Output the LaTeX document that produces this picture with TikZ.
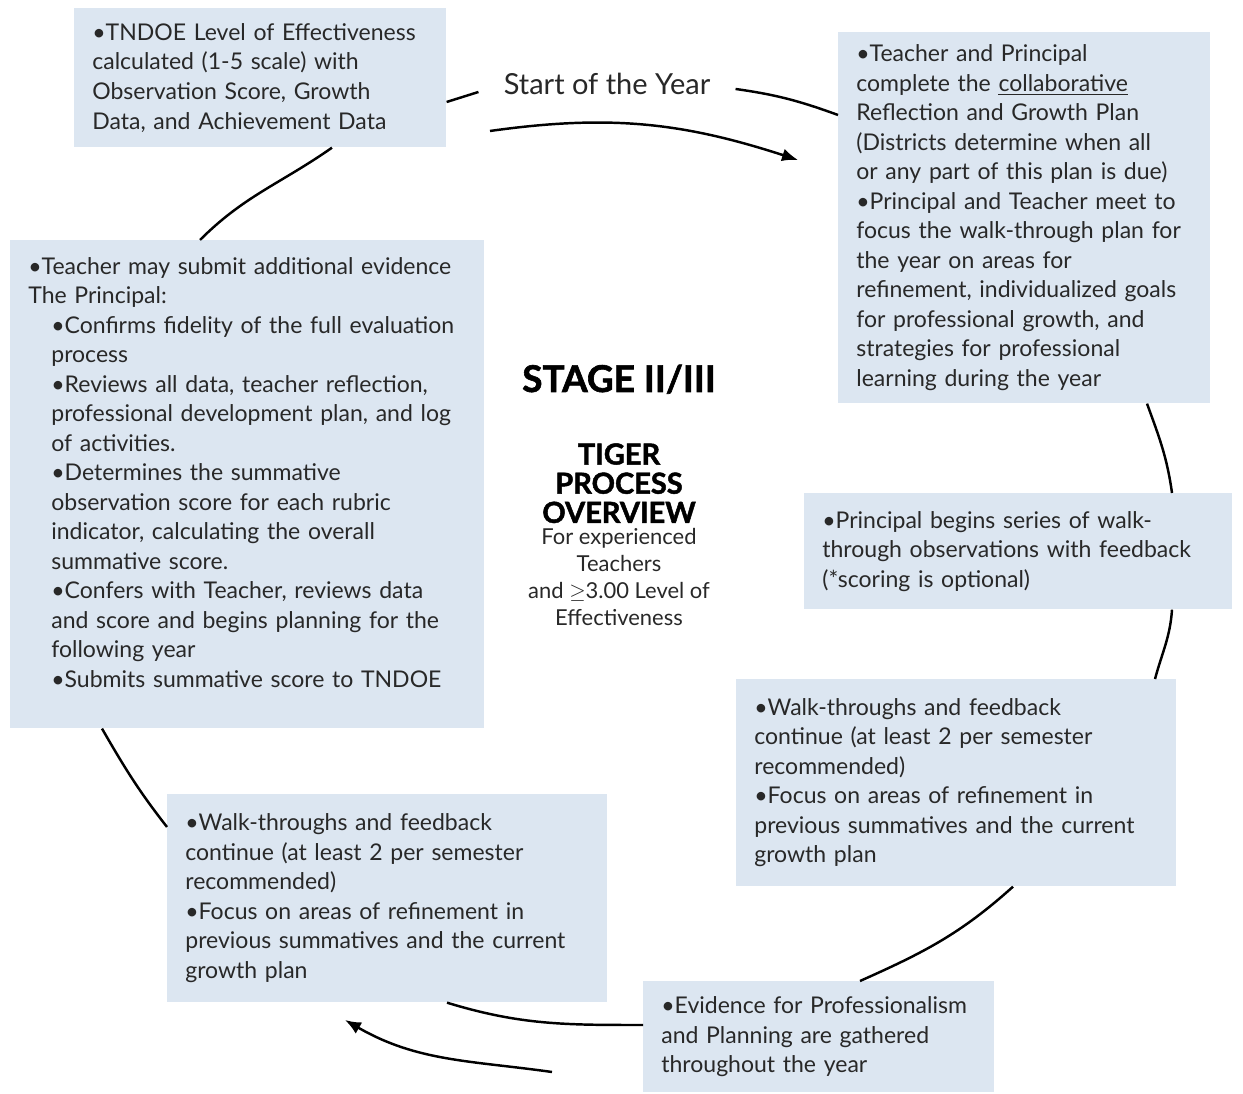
\documentclass[tikz,border=0pt]{standalone}
\usepackage{fontspec}
\setmainfont{Lato}
\newfontfamily\heavyfont[BoldFeatures={FakeBold=1.6}]{Lato}
\usetikzlibrary{arrows.meta}
\definecolor{boxblue}{RGB}{220,230,241}
\definecolor{inktext}{RGB}{40,40,40}
\newcommand{\ind}{\hspace*{0.46cm}}
\hyphenpenalty=10000
\exhyphenpenalty=10000

\begin{document}
\begin{tikzpicture}[x=0.02cm, y=0.02cm,
    box/.style={fill=boxblue, text=inktext, anchor=north west, align=left,
      inner xsep=0.36cm, inner ysep=0pt, font=\fontsize{13.1}{16.8}\selectfont},
    ring/.style={line width=1.4pt},
    cyclearrow/.style={line width=1.4pt, -{Latex[length=0.32cm,width=0.26cm]}}]
  \useasboundingbox (0,0) rectangle (1243,1094);

  \node[box, text width=6.72cm, minimum height=2.78cm] (tndoe) at (74,1086)
    {•TNDOE Level of Effectiveness\\calculated (1-5 scale) with\\Observation Score, Growth\\Data, and Achievement Data};
  \node[box, text width=6.72cm, minimum height=7.42cm] (plan) at (838,1062)
    {•Teacher and Principal\\complete the \underline{collaborative}\\Reflection and Growth Plan\\(Districts determine when all\\or any part of this plan is due)\\•Principal and Teacher meet to\\focus the walk-through plan for\\the year on areas for\\refinement, individualized goals\\for professional growth, and\\strategies for professional\\learning during the year};
  \node[box, text width=8.76cm, minimum height=9.76cm] (review) at (10,854)
    {•Teacher may submit additional evidence\\The Principal:\\
     \ind•Confirms fidelity of the full evaluation\\\ind process\\
     \ind•Reviews all data, teacher reflection,\\\ind professional development plan, and log\\\ind of activities.\\
     \ind•Determines the summative\\\ind observation score for each rubric\\\ind indicator, calculating the overall\\\ind summative score.\\
     \ind•Confers with Teacher, reviews data\\\ind and score and begins planning for the\\\ind following year\\
     \ind•Submits summative score to TNDOE\par\vspace*{0.48cm}};
  \node[box, text width=7.84cm, minimum height=2.32cm] (walk) at (804,601)
    {•Principal begins series of walk-\\through observations with feedback\\(*scoring is optional)};
  \node[box, text width=8.08cm, minimum height=4.14cm] (contR) at (736,415)
    {•Walk-throughs and feedback\\continue (at least 2 per semester\\recommended)\\•Focus on areas of refinement in\\previous summatives and the current\\growth plan};
  \node[box, text width=8.08cm, minimum height=4.16cm] (contL) at (167,300)
    {•Walk-throughs and feedback\\continue (at least 2 per semester\\recommended)\\•Focus on areas of refinement in\\previous summatives and the current\\growth plan};
  \node[box, text width=6.30cm, minimum height=2.22cm] (evidence) at (643,113)
    {•Evidence for Professionalism\\and Planning are gathered\\throughout the year};

  \node[anchor=base, inner xsep=0.5cm, font=\fontsize{16.5}{19}\selectfont, text=inktext] (start) at (607,999) {Start of the Year};

  \node[anchor=base, inner sep=0pt, font=\fontsize{21}{23}\heavyfont\bfseries] (stage) at (619,702) {STAGE II/III};
  \node[anchor=north, inner sep=0pt, align=center, font=\fontsize{16.5}{16.6}\heavyfont\bfseries] (tiger) at (619,651) {TIGER\\PROCESS\\OVERVIEW};
  \node[anchor=north, inner sep=0pt, align=center, text=inktext, font=\fontsize{12.5}{15.4}\selectfont] (audience) at (619,566)
    {For experienced\\Teachers\\and $\geq$3.00 Level of\\Effectiveness};

  \draw[ring] (review.north -| 200,0) to[out=45, in=215] (tndoe.south -| 332,0);
  \draw[ring] (tndoe.east |- 0,992) -- (start.west |- 0,1002);
  \draw[ring] (start.east |- 0,1005) to[out=-8, in=160] (plan.west |- 0,979);
  \draw[ring] (plan.south -| 1147,0) to[out=-70, in=98] (walk.north -| 1172,0);
  \draw[ring] (walk.south -| 1172,0) to[out=-94, in=75] (contR.north -| 1155,0);
  \draw[ring] (contR.south -| 1013,0) to[out=222, in=24] (evidence.north -| 860,0);
  \draw[ring] (evidence.west |- 0,69) to[out=180, in=-17] (contL.south -| 447,0);
  \draw[ring] (contL.west |- 0,267) to[out=128, in=-60] (review.south -| 102,0);

  \coordinate (yearfrom) at (490,963);
  \coordinate (yearto) at (798,934);
  \coordinate (backfrom) at (552,22);
  \coordinate (backto) at (345,74);
  \draw[cyclearrow] (yearfrom) to[out=8, in=162] (yearto);
  \draw[cyclearrow] (backfrom) to[out=172, in=-30] (backto);
\end{tikzpicture}
\end{document}
